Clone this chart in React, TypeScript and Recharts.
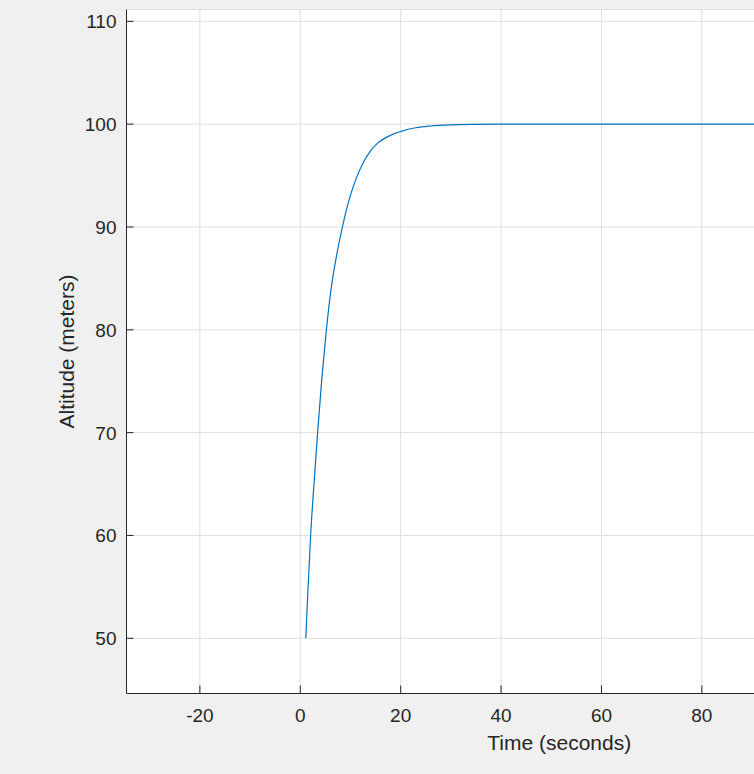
import { LineChart, Line, XAxis, YAxis, CartesianGrid } from 'recharts';

// step response (seconds, meters)
const time = [1.1, 1.5, 2.06, 2.7, 3.45, 4.3, 5.2, 6.2, 7.3, 8.4, 9.1, 10, 11.2, 12.6, 14, 15.3, 17.9, 20.1, 23, 26, 30, 35, 40, 60, 80, 100];
const altitude = [50, 54.4, 60, 64.8, 70, 75.3, 80, 84.2, 87.4, 90, 91.5, 93.1, 94.8, 96.3, 97.4, 98.1, 98.9, 99.3, 99.65, 99.82, 99.93, 99.98, 100, 100, 100, 100];

// only the ticks that fall inside the window
const xTicks = [-20, 0, 20, 40, 60, 80];
const yTicks = [50, 60, 70, 80, 90, 100, 110];

const AXIS = '#262626';
const FONT = "'Liberation Sans', Arial, Helvetica, sans-serif";

const chartData = time.map((t, i) => ({ time: t, altitude: altitude[i] }));

function BottomTick(props: any) {
    const { x, y, payload } = props;
    return (
        <g>
            <line x1={x} y1={y} x2={x} y2={y - 8} stroke={AXIS} strokeWidth={1} />
            <text x={x} y={y + 28} textAnchor="middle" fontSize={19} fill={AXIS} fontFamily={FONT}>
                {payload.value}
            </text>
        </g>
    );
}

function TopTick(props: any) {
    const { x, y } = props;
    return <line x1={x} y1={y} x2={x} y2={y + 8} stroke={AXIS} strokeWidth={1} />;
}

function LeftTick(props: any) {
    const { x, y, payload } = props;
    return (
        <g>
            <line x1={x} y1={y} x2={x + 7} y2={y} stroke={AXIS} strokeWidth={1} />
            <text x={x - 10} y={y + 7} textAnchor="end" fontSize={19} fill={AXIS} fontFamily={FONT}>
                {payload.value}
            </text>
        </g>
    );
}

function YLabel(props: any) {
    const { viewBox } = props;
    const cx = viewBox.x + 7;
    const cy = viewBox.y + viewBox.height / 2;
    return (
        <text
            x={cx}
            y={cy}
            transform={`rotate(-90, ${cx}, ${cy})`}
            textAnchor="middle"
            fontSize={21}
            fill={AXIS}
            fontFamily={FONT}
        >
            Altitude (meters)
        </text>
    );
}

export default function App() {
    return (
        <div
            style={{
                position: 'fixed',
                left: 0,
                top: 0,
                width: 754,
                height: 774,
                overflow: 'hidden',
                background: '#f0f0f0',
                fontFamily: FONT,
            }}
        >
            <LineChart
                width={1000}
                height={774}
                data={chartData}
                margin={{ top: 9.5, right: 8, bottom: 20.5, left: 66.5 }}
            >
                <CartesianGrid xAxisId="bottom" fill="#ffffff" stroke="#dedede" strokeWidth={1} />
                <XAxis
                    xAxisId="bottom"
                    dataKey="time"
                    type="number"
                    domain={[-34.62, 137.8]}
                    allowDataOverflow
                    ticks={xTicks}
                    interval={0}
                    height={60}
                    tickSize={0}
                    tickMargin={0}
                    tickLine={false}
                    axisLine={{ stroke: AXIS, strokeWidth: 1 }}
                    tick={<BottomTick />}
                    label={{
                        value: 'Time (seconds)',
                        position: 'insideBottom',
                        offset: 4,
                        fontSize: 21,
                        fill: AXIS,
                        fontFamily: FONT,
                    }}
                />
                <XAxis
                    xAxisId="top"
                    orientation="top"
                    dataKey="time"
                    type="number"
                    domain={[-34.62, 137.8]}
                    allowDataOverflow
                    ticks={xTicks}
                    interval={0}
                    height={0}
                    tickSize={0}
                    tickMargin={0}
                    tickLine={false}
                    axisLine={{ stroke: AXIS, strokeWidth: 1 }}
                    tick={<TopTick />}
                />
                <YAxis
                    type="number"
                    domain={[44.63, 111.15]}
                    allowDataOverflow
                    ticks={yTicks}
                    interval={0}
                    width={60}
                    tickSize={0}
                    tickMargin={0}
                    tickLine={false}
                    axisLine={{ stroke: AXIS, strokeWidth: 1 }}
                    tick={<LeftTick />}
                    label={<YLabel />}
                />
                <Line
                    xAxisId="bottom"
                    type="monotone"
                    dataKey="altitude"
                    stroke="#0072BD"
                    strokeWidth={1.2}
                    dot={false}
                    isAnimationActive={false}
                />
            </LineChart>
        </div>
    );
}
